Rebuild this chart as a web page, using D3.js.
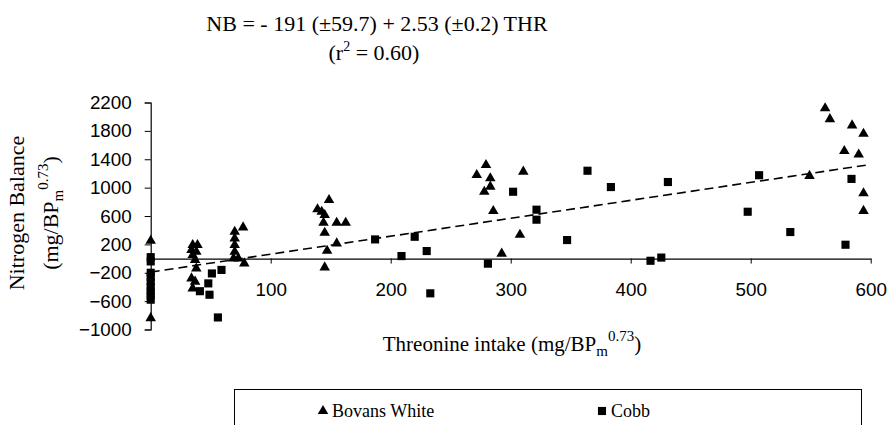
<!DOCTYPE html>
<html>
<head>
<meta charset="utf-8">
<script src="https://cdn.jsdelivr.net/npm/d3@7"></script>
<style>
  body { margin: 0; background: #fff; }
  svg { display: block; }
</style>
</head>
<body>
<svg id="chart" width="890" height="425"></svg>
<script>
// Threonine intake (mg/BPm^0.73) and nitrogen balance for each bird
const bovansX  = [0, 0, 35, 39, 34, 38, 35, 37, 38, 34, 37, 35,
                  70, 77, 70, 70, 70, 69, 73, 78,
                  148.6, 139, 142.5, 145, 144, 155, 162.5, 145, 155, 147, 145,
                  279.4, 271.7, 283, 283, 278, 310.5, 285.5, 307.7, 292.5,
                  562, 566, 584.5, 594, 578, 590, 549, 594, 594];
const bovansNB = [250, -840, 190, 190, 120, 96, 50, -20, -140, -280, -325, -420,
                  378, 440, 285, 190, 96, 3, 3, -68,
                  825, 694, 660, 613, 505, 505, 505, 364, 214, 110, -124,
                  1319, 1178, 1131, 1013, 942, 1225, 670, 336, 70,
                  2118, 1965, 1878, 1760, 1516, 1467, 1166, 920, 672];

const cobbX  = [0, 0, 0, 0, 0, 0, 0, 0, 0,
                41, 49, 48, 51, 59, 56,
                187, 209, 220, 230, 233,
                281, 302, 321.5, 321.5, 347, 364, 383.5, 431, 416.5, 425.5,
                497.5, 507, 584, 533, 579];
const cobbNB = [20, -40, -200, -260, -330, -400, -460, -520, -580,
                -460, -510, -350, -210, -160, -830,
                270, 35, 307, 106, -490,
                -72, 942, 689, 548, 261, 1238, 1008, 1079, -31, 14,
                660, 1175, 1123, 374, 195];

// Fitted line NB = -191 + 2.53 THR
const fitIntercept = -191;
const fitSlope = 2.53;
const fitRange = [0, 600];

const xTicks = [100, 200, 300, 400, 500, 600];
const yTicks = [-1000, -600, -200, 200, 600, 1000, 1400, 1800, 2200];

const seriesNames = ["Bovans White", "Cobb"];

const svg = d3.select("#chart");
const serif = "'Liberation Serif', 'Times New Roman', serif";
const sans = "'Liberation Sans', Arial, sans-serif";

const x = d3.scaleLinear().domain([0, 600]).range([150.7, 870.7]);
const y = d3.scaleLinear().domain([-1000, 2200]).range([329.5, 102.5]);

// Vertical axis at THR = 0
const yAxis = d3.axisLeft(y).tickValues(yTicks).tickSize(6).tickPadding(13)
  .tickFormat(d3.format("d"));
const gy = svg.append("g").attr("transform", `translate(${x(0)},0)`).call(yAxis);
gy.select(".domain").attr("stroke", "#000").attr("stroke-width", 1.2);
gy.selectAll(".tick line").attr("stroke", "#000");
gy.selectAll(".tick text").attr("font-family", sans).attr("font-size", 18.8).attr("fill", "#000");

// Horizontal axis along NB = 0
const xAxis = d3.axisBottom(x).tickValues(xTicks).tickSize(5).tickPadding(19)
  .tickSizeOuter(0);
const gx = svg.append("g").attr("transform", `translate(0,${y(0)})`).call(xAxis);
gx.select(".domain").attr("stroke", "#000").attr("stroke-width", 1.2);
gx.selectAll(".tick line").attr("stroke", "#000");
gx.selectAll(".tick text").attr("font-family", sans).attr("font-size", 18.8).attr("fill", "#000");

// Regression line
const fitLine = d3.line().x(d => x(d)).y(d => y(fitIntercept + fitSlope * d));
svg.append("path")
  .datum(fitRange)
  .attr("d", fitLine)
  .attr("fill", "none")
  .attr("stroke", "#000")
  .attr("stroke-width", 1.6)
  .attr("stroke-dasharray", "9,5");

// Markers
const tri = d3.symbol().type(d3.symbolTriangle).size(48);
const sq = d3.symbol().type(d3.symbolSquare).size(66);

svg.append("g").selectAll("path")
  .data(d3.zip(cobbX, cobbNB))
  .join("path")
  .attr("d", sq)
  .attr("transform", d => `translate(${x(d[0])},${y(d[1])})`)
  .attr("fill", "#000");

svg.append("g").selectAll("path")
  .data(d3.zip(bovansX, bovansNB))
  .join("path")
  .attr("d", tri)
  .attr("transform", d => `translate(${x(d[0])},${y(d[1])})`)
  .attr("fill", "#000");

// Equation above the plot
const title = svg.append("text")
  .attr("font-family", serif).attr("font-size", 22).attr("fill", "#000")
  .attr("text-anchor", "middle");
title.append("tspan").attr("x", 377).attr("y", 31)
  .text("NB = - 191 (\u00B159.7) + 2.53 (\u00B10.2) THR");
const l2 = title.append("tspan").attr("x", 374).attr("y", 60);
l2.text("(r");
title.append("tspan").attr("dy", -9).attr("font-size", 14).text("2");
title.append("tspan").attr("dy", 9).text(" = 0.60)");

// Axis titles
function unitsLabel(sel, prefix) {
  sel.append("tspan").text(prefix + "(mg/BP");
  sel.append("tspan").attr("dy", 5).attr("font-size", 15).text("m");
  sel.append("tspan").attr("dy", -15).attr("font-size", 15).text("0.73");
  sel.append("tspan").attr("dy", 10).text(")");
}

const xt = svg.append("text")
  .attr("font-family", serif).attr("font-size", 21).attr("fill", "#000")
  .attr("text-anchor", "middle")
  .attr("x", 512).attr("y", 351);
unitsLabel(xt, "Threonine intake ");

const yt = svg.append("g").attr("transform", "translate(0,213) rotate(-90)");
yt.append("text")
  .attr("font-family", serif).attr("font-size", 22).attr("fill", "#000")
  .attr("text-anchor", "middle").attr("x", 0).attr("y", 24)
  .text("Nitrogen Balance");
const yt2 = yt.append("text")
  .attr("font-family", serif).attr("font-size", 22).attr("fill", "#000")
  .attr("text-anchor", "middle").attr("x", 0).attr("y", 58);
unitsLabel(yt2, "");

// Legend
const legend = svg.append("g");
legend.append("rect")
  .attr("x", 234.5).attr("y", 389.5).attr("width", 627).attr("height", 60)
  .attr("fill", "#fff").attr("stroke", "#000").attr("stroke-width", 1);
const legendItems = [
  { name: seriesNames[0], shape: tri, tx: 318 },
  { name: seriesNames[1], shape: sq, tx: 597 }
];
legendItems.forEach(it => {
  legend.append("path").attr("d", it.shape)
    .attr("transform", `translate(${it.tx + 5},${411})`).attr("fill", "#000");
  legend.append("text")
    .attr("x", it.tx + 14).attr("y", 417)
    .attr("font-family", serif).attr("font-size", 18).attr("fill", "#000")
    .text(it.name);
});
</script>
</body>
</html>
